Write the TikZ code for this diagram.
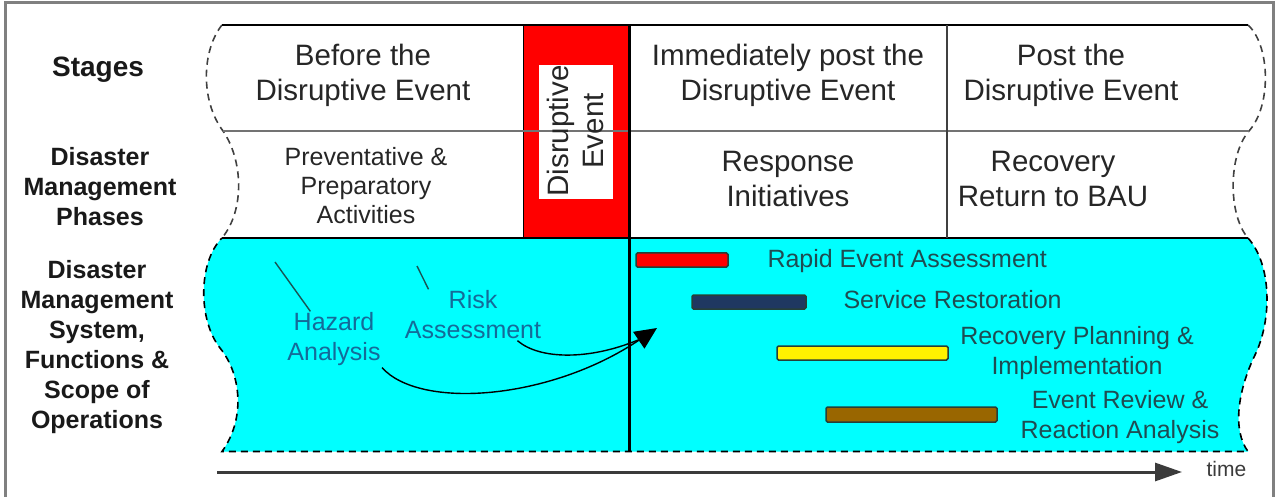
\documentclass[tikz,border=0pt]{standalone}
\usepackage{fontspec}
\setmainfont{Liberation Sans}
\usetikzlibrary{arrows.meta}

\newlength{\du}
\setlength{\du}{20\unitlength}

\definecolor{textgray}{rgb}{0.150000, 0.150000, 0.150000}
\definecolor{labelblack}{rgb}{0.100000, 0.100000, 0.100000}
\definecolor{cyanblue}{rgb}{0.080000, 0.420000, 0.600000}
\definecolor{barlabel}{rgb}{0.120000, 0.300000, 0.320000}
\definecolor{barline}{rgb}{0.150000, 0.250000, 0.220000}
\definecolor{tickcolor}{rgb}{0.100000, 0.330000, 0.330000}
\definecolor{timegray}{rgb}{0.230000, 0.230000, 0.230000}

\tikzset{
  stagetext/.style={font=\fontsize{29.5}{35}\selectfont, align=center, inner sep=0pt, text=textgray},
  phasetext/.style={font=\fontsize{25}{29}\selectfont, align=center, inner sep=0pt, text=textgray},
  stagelabel/.style={font=\bfseries\fontsize{28}{33}\selectfont, align=center, inner sep=0pt, text=labelblack},
  rowlabel/.style={font=\bfseries\fontsize{25}{30}\selectfont, align=center, inner sep=0pt, text=labelblack},
  cyantext/.style={font=\fontsize{25}{30}\selectfont, align=center, inner sep=0pt, text=cyanblue},
  bartext/.style={font=\fontsize{25}{30}\selectfont, align=center, inner sep=0pt, text=barlabel},
  timetext/.style={font=\fontsize{21}{25}\selectfont, inner sep=0pt, text=timegray},
  ganttbar/.style={draw=barline, line width=1.5pt, rounded corners=1.5pt},
  flowline/.style={draw=black, line width=1.4pt},
  tickline/.style={draw=tickcolor, line width=1.4pt},
  timeline/.style={draw=timegray, line width=3pt}
}

\begin{document}
\begin{tikzpicture}
\pgftransformxscale{1.000000}
\pgftransformyscale{-1.000000}
\useasboundingbox (0\du,0\du) rectangle (64\du,24.85\du);
% outer frame, open at the bottom
\definecolor{dialinecolor}{rgb}{0.500000, 0.500000, 0.500000}
\pgfsetstrokecolor{dialinecolor}
\pgfsetlinewidth{0.150000\du}
\pgfsetdash{}{0pt}
\pgfsetbuttcap
\pgfsetmiterjoin
\pgfpathmoveto{\pgfpoint{0.250000\du}{25.500000\du}}
\pgfpathlineto{\pgfpoint{0.250000\du}{0.150000\du}}
\pgfpathlineto{\pgfpoint{63.650000\du}{0.150000\du}}
\pgfpathlineto{\pgfpoint{63.650000\du}{25.500000\du}}
\pgfusepath{stroke}
% cyan band
\definecolor{dialinecolor}{rgb}{0.000000, 1.000000, 1.000000}
\pgfsetfillcolor{dialinecolor}
\pgfpathmoveto{\pgfpoint{11.100000\du}{11.900000\du}}
\pgfpathlineto{\pgfpoint{62.400000\du}{11.900000\du}}
\pgfpathcurveto{\pgfpoint{63.600000\du}{13.250000\du}}{\pgfpoint{63.600000\du}{16.000000\du}}{\pgfpoint{62.750000\du}{17.750000\du}}
\pgfpathcurveto{\pgfpoint{61.900000\du}{19.500000\du}}{\pgfpoint{61.600000\du}{21.500000\du}}{\pgfpoint{62.400000\du}{22.575000\du}}
\pgfpathlineto{\pgfpoint{11.100000\du}{22.575000\du}}
\pgfpathcurveto{\pgfpoint{12.250000\du}{21.000000\du}}{\pgfpoint{12.100000\du}{18.750000\du}}{\pgfpoint{11.000000\du}{17.400000\du}}
\pgfpathcurveto{\pgfpoint{9.900000\du}{16.000000\du}}{\pgfpoint{9.900000\du}{13.100000\du}}{\pgfpoint{11.100000\du}{11.900000\du}}
\pgfpathclose
\pgfusepath{fill}
% cyan band dashed outline
\definecolor{dialinecolor}{rgb}{0.000000, 0.000000, 0.000000}
\pgfsetstrokecolor{dialinecolor}
\pgfsetlinewidth{0.080000\du}
\pgfsetdash{{0.350000\du}{0.250000\du}}{0\du}
\pgfpathmoveto{\pgfpoint{62.400000\du}{11.900000\du}}
\pgfpathcurveto{\pgfpoint{63.600000\du}{13.250000\du}}{\pgfpoint{63.600000\du}{16.000000\du}}{\pgfpoint{62.750000\du}{17.750000\du}}
\pgfpathcurveto{\pgfpoint{61.900000\du}{19.500000\du}}{\pgfpoint{61.600000\du}{21.500000\du}}{\pgfpoint{62.400000\du}{22.575000\du}}
\pgfpathlineto{\pgfpoint{11.100000\du}{22.575000\du}}
\pgfpathcurveto{\pgfpoint{12.250000\du}{21.000000\du}}{\pgfpoint{12.100000\du}{18.750000\du}}{\pgfpoint{11.000000\du}{17.400000\du}}
\pgfpathcurveto{\pgfpoint{9.900000\du}{16.000000\du}}{\pgfpoint{9.900000\du}{13.100000\du}}{\pgfpoint{11.100000\du}{11.900000\du}}
\pgfusepath{stroke}
% wavy sides of the two upper rows
\definecolor{dialinecolor}{rgb}{0.250000, 0.250000, 0.250000}
\pgfsetstrokecolor{dialinecolor}
\pgfpathmoveto{\pgfpoint{11.100000\du}{1.250000\du}}
\pgfpathcurveto{\pgfpoint{10.100000\du}{2.500000\du}}{\pgfpoint{10.000000\du}{5.000000\du}}{\pgfpoint{11.150000\du}{6.550000\du}}
\pgfpathcurveto{\pgfpoint{12.150000\du}{8.000000\du}}{\pgfpoint{12.250000\du}{10.500000\du}}{\pgfpoint{11.100000\du}{11.900000\du}}
\pgfusepath{stroke}
\pgfpathmoveto{\pgfpoint{62.400000\du}{1.250000\du}}
\pgfpathcurveto{\pgfpoint{63.500000\du}{2.250000\du}}{\pgfpoint{63.600000\du}{5.250000\du}}{\pgfpoint{62.450000\du}{6.550000\du}}
\pgfpathcurveto{\pgfpoint{61.400000\du}{7.750000\du}}{\pgfpoint{61.400000\du}{10.750000\du}}{\pgfpoint{62.400000\du}{11.900000\du}}
\pgfusepath{stroke}
% disruptive event block
\pgfsetdash{}{0pt}
\pgfsetlinewidth{0.050000\du}
\definecolor{dialinecolor}{rgb}{1.000000, 0.000000, 0.000000}
\pgfsetfillcolor{dialinecolor}
\pgfpathrectanglecorners{\pgfpoint{26.150000\du}{1.250000\du}}{\pgfpoint{31.400000\du}{11.900000\du}}
\pgfusepath{fill}
\definecolor{dialinecolor}{rgb}{0.000000, 0.000000, 0.000000}
\pgfsetstrokecolor{dialinecolor}
\pgfpathrectanglecorners{\pgfpoint{26.150000\du}{1.250000\du}}{\pgfpoint{31.400000\du}{11.900000\du}}
\pgfusepath{stroke}
\definecolor{dialinecolor}{rgb}{1.000000, 1.000000, 1.000000}
\pgfsetfillcolor{dialinecolor}
\pgfpathrectanglecorners{\pgfpoint{26.950000\du}{3.250000\du}}{\pgfpoint{30.650000\du}{9.950000\du}}
\pgfusepath{fill}
% row lines
\pgfsetlinewidth{0.075000\du}
\definecolor{dialinecolor}{rgb}{0.000000, 0.000000, 0.000000}
\pgfsetstrokecolor{dialinecolor}
\pgfpathmoveto{\pgfpoint{11.100000\du}{1.250000\du}}
\pgfpathlineto{\pgfpoint{62.400000\du}{1.250000\du}}
\pgfusepath{stroke}
\pgfpathmoveto{\pgfpoint{11.100000\du}{11.900000\du}}
\pgfpathlineto{\pgfpoint{62.400000\du}{11.900000\du}}
\pgfusepath{stroke}
\definecolor{dialinecolor}{rgb}{0.450000, 0.450000, 0.450000}
\pgfsetstrokecolor{dialinecolor}
\pgfpathmoveto{\pgfpoint{11.150000\du}{6.550000\du}}
\pgfpathlineto{\pgfpoint{62.450000\du}{6.550000\du}}
\pgfusepath{stroke}
\definecolor{dialinecolor}{rgb}{0.250000, 0.250000, 0.250000}
\pgfsetstrokecolor{dialinecolor}
\pgfpathmoveto{\pgfpoint{47.350000\du}{1.250000\du}}
\pgfpathlineto{\pgfpoint{47.350000\du}{11.900000\du}}
\pgfusepath{stroke}
% event line
\pgfsetlinewidth{0.150000\du}
\definecolor{dialinecolor}{rgb}{0.000000, 0.000000, 0.000000}
\pgfsetstrokecolor{dialinecolor}
\pgfpathmoveto{\pgfpoint{31.450000\du}{1.250000\du}}
\pgfpathlineto{\pgfpoint{31.450000\du}{22.575000\du}}
\pgfusepath{stroke}
% texts
\node[stagetext, rotate=90] (eventtext) at (28.750000\du,6.550000\du){Disruptive\\Event};
\node[stagetext] (before) at (18.150000\du,3.775000\du){Before the\\Disruptive Event};
\node[stagetext] (immediately) at (39.400000\du,3.775000\du){Immediately post the\\Disruptive Event};
\node[stagetext] (post) at (53.550000\du,3.775000\du){Post the\\Disruptive Event};
\node[phasetext] (preventative) at (18.300000\du,9.300000\du){Preventative \&\\Preparatory\\Activities};
\node[stagetext] (response) at (39.400000\du,8.950000\du){Response\\Initiatives};
\node[stagetext] (recovery) at (52.650000\du,8.950000\du){Recovery\\Return to BAU};
\node[stagelabel] (stages) at (4.900000\du,3.500000\du){Stages};
\node[rowlabel] (phases) at (5.000000\du,9.325000\du){Disaster\\Management\\Phases};
\node[rowlabel] (system) at (4.850000\du,17.350000\du){Disaster\\Management\\System,\\Functions \&\\Scope of\\Operations};
\node[cyantext] (hazard) at (16.700000\du,16.975000\du){Hazard\\Analysis};
\node[cyantext] (risk) at (23.650000\du,15.750000\du){Risk\\Assessment};
% gantt bars
\draw[ganttbar, fill=red] (31.800000\du,12.650000\du) rectangle (36.400000\du,13.350000\du);
\draw[ganttbar, fill={rgb,1:red,0.12;green,0.22;blue,0.38}] (34.600000\du,14.750000\du) rectangle (40.300000\du,15.450000\du);
\draw[ganttbar, fill=yellow] (38.850000\du,17.300000\du) rectangle (47.400000\du,18.000000\du);
\draw[ganttbar, fill={rgb,1:red,0.6;green,0.4;blue,0.0}] (41.300000\du,20.350000\du) rectangle (49.850000\du,21.100000\du);
\node[bartext, anchor=west] (rapid) at (38.300000\du,13.075000\du){Rapid Event Assessment};
\node[bartext, anchor=west] (service) at (42.100000\du,15.000000\du){Service Restoration};
\node[bartext] (planning) at (53.850000\du,17.675000\du){Recovery Planning \&\\Implementation};
\node[bartext] (review) at (56.000000\du,20.875000\du){Event Review \&\\Reaction Analysis};
% leader ticks and arrows into the event
\coordinate (hazardtick) at (13.750000\du,13.100000\du);
\coordinate (risktick) at (20.850000\du,13.300000\du);
\coordinate (impact) at (32.850000\du,16.400000\du);
\coordinate (impactbase) at (31.900000\du,17.000000\du);
\draw[tickline] (hazardtick) -- (hazard.130);
\draw[tickline] (risktick) -- (risk.150);
\draw[flowline, -{Triangle[length=22pt,width=20pt]}] (hazard.south east) .. controls (21.000000\du,20.500000\du) and (27.500000\du,20.000000\du) .. (impact);
\draw[flowline] (risk.-30) .. controls (27.000000\du,18.000000\du) and (29.500000\du,18.000000\du) .. (impactbase);
% time axis
\node[timetext, anchor=west] (time) at (60.250000\du,23.450000\du){time};
\coordinate (timestart) at (10.850000\du,23.600000\du);
\coordinate (timeend) at (59.100000\du,23.600000\du);
\draw[timeline, -{Triangle[length=27pt,width=18pt]}] (timestart) -- (timeend);
\end{tikzpicture}
\end{document}
